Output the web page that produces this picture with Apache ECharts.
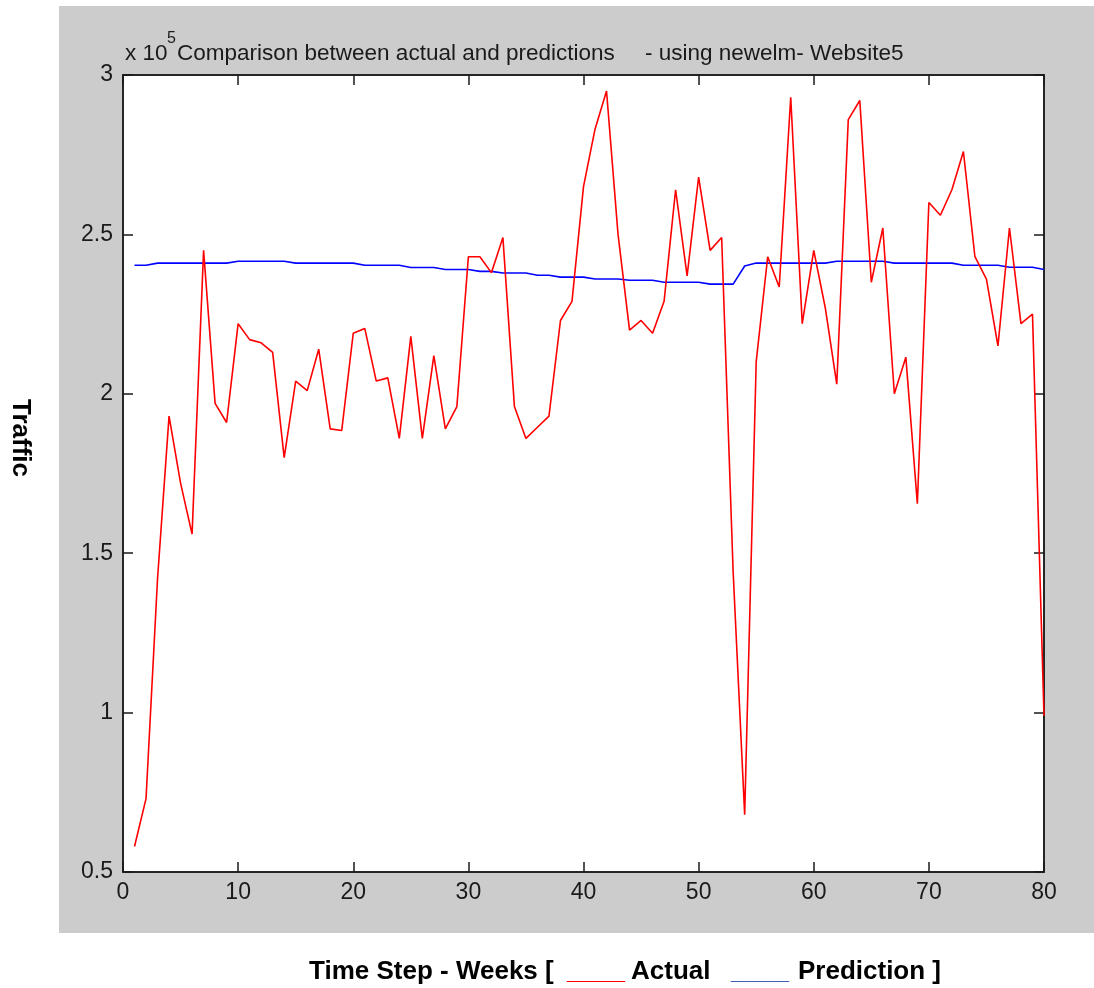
<!DOCTYPE html>
<html>
<head>
<meta charset="utf-8">
<script src="https://cdn.jsdelivr.net/npm/echarts@6/dist/echarts.min.js"></script>
<style>
  html, body { margin: 0; padding: 0; background: #ffffff; }
  #chart { width: 1094px; height: 988px; }
</style>
</head>
<body>
<div id="chart"></div>
<script>
// ---- Data (values in units of 10^5) ----
const weeks = Array.from({length: 80}, (_, i) => i + 1);
const actual = [
  0.58, 0.73, 1.42, 1.93, 1.72, 1.56, 2.45, 1.97, 1.91, 2.22,
  2.17, 2.16, 2.13, 1.80, 2.04, 2.01, 2.14, 1.89, 1.885, 2.19,
  2.205, 2.04, 2.05, 1.86, 2.18, 1.86, 2.12, 1.89, 1.96, 2.43,
  2.43, 2.38, 2.49, 1.96, 1.86, 1.895, 1.93, 2.23, 2.29, 2.65,
  2.83, 2.95, 2.50, 2.20, 2.23, 2.19, 2.29, 2.64, 2.37, 2.68,
  2.45, 2.49, 1.44, 0.68, 2.10, 2.43, 2.335, 2.93, 2.22, 2.45,
  2.27, 2.03, 2.86, 2.92, 2.35, 2.52, 2.00, 2.115, 1.655, 2.60,
  2.56, 2.64, 2.76, 2.43, 2.36, 2.15, 2.52, 2.22, 2.25, 0.99
];
const prediction = [
  2.403, 2.403, 2.41, 2.41, 2.41, 2.41, 2.41, 2.41, 2.41, 2.416,
  2.416, 2.416, 2.416, 2.416, 2.41, 2.41, 2.41, 2.41, 2.41, 2.41,
  2.403, 2.403, 2.403, 2.403, 2.396, 2.396, 2.396, 2.39, 2.39, 2.39,
  2.384, 2.384, 2.379, 2.379, 2.379, 2.372, 2.372, 2.366, 2.366, 2.366,
  2.36, 2.36, 2.36, 2.356, 2.356, 2.356, 2.35, 2.35, 2.35, 2.35,
  2.344, 2.344, 2.344, 2.401, 2.41, 2.41, 2.41, 2.41, 2.41, 2.41,
  2.41, 2.416, 2.416, 2.416, 2.416, 2.416, 2.41, 2.41, 2.41, 2.41,
  2.41, 2.41, 2.403, 2.403, 2.403, 2.403, 2.397, 2.397, 2.397, 2.39
];
const titleMain = 'Comparison between actual and predictions';
const titleTail = '- using newelm- Website5';
const yAxisName = 'Traffic';
const xLabelParts = ['Time Step - Weeks [', '____', 'Actual', '____', 'Prediction ]'];

const actualPairs = weeks.map((w, i) => [w, actual[i]]);
const predPairs = weeks.map((w, i) => [w, prediction[i]]);

const tickFont = '23px "Liberation Sans", Arial, sans-serif';
const titleFont = '22.5px "Liberation Sans", Arial, sans-serif';
const boldFont = 'bold 26px "Liberation Sans", Arial, sans-serif';

const chart = echarts.init(document.getElementById('chart'), null, {renderer: 'canvas'});
chart.setOption({
  animation: false,
  backgroundColor: '#ffffff',
  graphic: [
    { type: 'rect', z: -10, shape: {x: 59, y: 6, width: 1035, height: 927}, style: {fill: '#cccccc'} },
    { type: 'text', z: 10, x: 125, y: 54, style: {text: 'x 10', font: titleFont, fill: '#1a1a1a', verticalAlign: 'middle'} },
    { type: 'text', z: 10, x: 167, y: 39, style: {text: '5', font: '16px "Liberation Sans", Arial, sans-serif', fill: '#1a1a1a', verticalAlign: 'middle'} },
    { type: 'text', z: 10, x: 177, y: 54, style: {text: titleMain, font: titleFont, fill: '#1a1a1a', verticalAlign: 'middle'} },
    { type: 'text', z: 10, x: 645, y: 54, style: {text: titleTail, font: titleFont, fill: '#1a1a1a', verticalAlign: 'middle'} },
    { type: 'text', z: 10, x: 20, y: 438, rotation: -Math.PI / 2, style: {text: yAxisName, font: boldFont, fill: '#000', align: 'center', verticalAlign: 'middle'} },
    { type: 'text', z: 10, x: 309, y: 972, style: {text: xLabelParts[0], font: boldFont, fill: '#000', verticalAlign: 'middle'} },
    { type: 'text', z: 10, x: 567, y: 972, style: {text: xLabelParts[1], font: boldFont, fill: '#ff0000', verticalAlign: 'middle'} },
    { type: 'text', z: 10, x: 631, y: 972, style: {text: xLabelParts[2], font: boldFont, fill: '#000', verticalAlign: 'middle'} },
    { type: 'text', z: 10, x: 731, y: 972, style: {text: xLabelParts[3], font: boldFont, fill: '#3f63b0', verticalAlign: 'middle'} },
    { type: 'text', z: 10, x: 798, y: 972, style: {text: xLabelParts[4], font: boldFont, fill: '#000', verticalAlign: 'middle'} }
  ],
  grid: {
    left: 123, top: 75, right: 50, bottom: 116,
    show: true, backgroundColor: '#ffffff', borderColor: '#1a1a1a', borderWidth: 1.5
  },
  xAxis: [
    {
      type: 'value', min: 0, max: 80, interval: 10, position: 'bottom',
      axisLine: {show: true, onZero: false, lineStyle: {color: '#1a1a1a', width: 1.5}},
      axisTick: {show: true, inside: true, length: 10, lineStyle: {color: '#1a1a1a', width: 1.5}},
      axisLabel: {show: true, margin: 9, color: '#1a1a1a', fontSize: 23, fontFamily: '"Liberation Sans", Arial, sans-serif'},
      splitLine: {show: false}
    },
    {
      type: 'value', min: 0, max: 80, interval: 10, position: 'top',
      axisLine: {show: true, onZero: false, lineStyle: {color: '#1a1a1a', width: 1.5}},
      axisTick: {show: true, inside: true, length: 10, lineStyle: {color: '#1a1a1a', width: 1.5}},
      axisLabel: {show: false},
      splitLine: {show: false}
    }
  ],
  yAxis: [
    {
      type: 'value', min: 0.5, max: 3, interval: 0.5, position: 'left',
      axisLine: {show: true, onZero: false, lineStyle: {color: '#1a1a1a', width: 1.5}},
      axisTick: {show: true, inside: true, length: 10, lineStyle: {color: '#1a1a1a', width: 1.5}},
      axisLabel: {show: true, margin: 10, color: '#1a1a1a', fontSize: 23, fontFamily: '"Liberation Sans", Arial, sans-serif'},
      splitLine: {show: false}
    },
    {
      type: 'value', min: 0.5, max: 3, interval: 0.5, position: 'right',
      axisLine: {show: true, onZero: false, lineStyle: {color: '#1a1a1a', width: 1.5}},
      axisTick: {show: true, inside: true, length: 10, lineStyle: {color: '#1a1a1a', width: 1.5}},
      axisLabel: {show: false},
      splitLine: {show: false}
    }
  ],
  series: [
    {
      name: 'Actual', type: 'line', xAxisIndex: 0, yAxisIndex: 0,
      data: actualPairs, showSymbol: false, symbol: 'none',
      lineStyle: {color: '#ff0000', width: 1.6}, itemStyle: {color: '#ff0000'}, z: 3
    },
    {
      name: 'Prediction', type: 'line', xAxisIndex: 0, yAxisIndex: 0,
      data: predPairs, showSymbol: false, symbol: 'none',
      lineStyle: {color: '#0000ff', width: 1.6}, itemStyle: {color: '#0000ff'}, z: 2
    }
  ]
});
</script>
</body>
</html>
